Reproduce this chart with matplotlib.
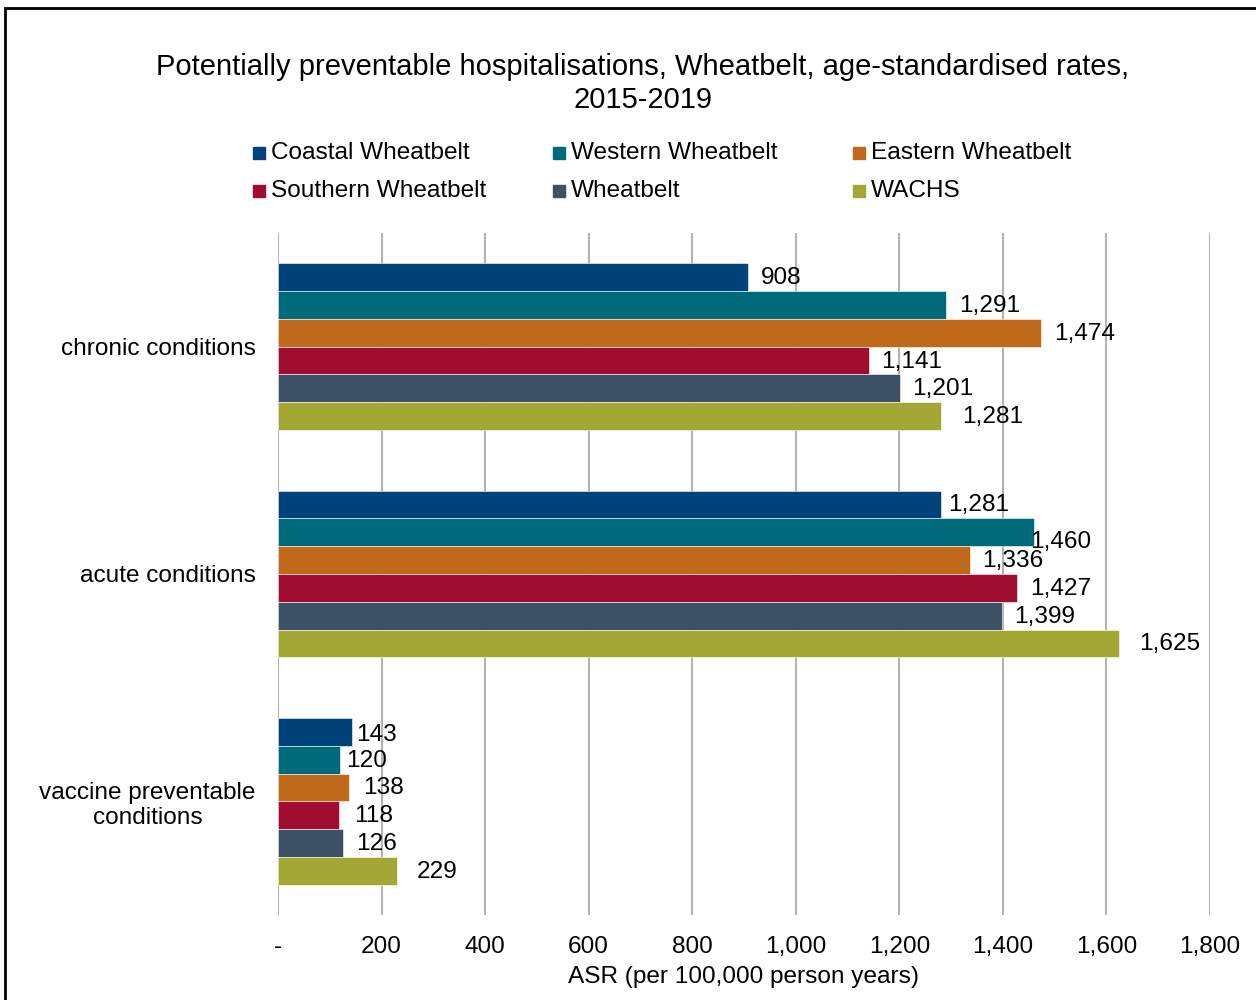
import numpy as np
import matplotlib.pyplot as plt
from matplotlib.patches import Rectangle

plt.rcParams['font.family'] = ['Liberation Sans', 'DejaVu Sans']

categories = ['chronic conditions', 'acute conditions', 'vaccine preventable\nconditions']
series = ['Coastal Wheatbelt', 'Western Wheatbelt', 'Eastern Wheatbelt',
          'Southern Wheatbelt', 'Wheatbelt', 'WACHS']
coastal = [908, 1281, 143]
western = [1291, 1460, 120]
eastern = [1474, 1336, 138]
southern = [1141, 1427, 118]
wheatbelt = [1201, 1399, 126]
wachs = [1281, 1625, 229]
xticks = [0, 200, 400, 600, 800, 1000, 1200, 1400, 1600, 1800]
xticklabels = ['-', '200', '400', '600', '800', '1,000', '1,200', '1,400', '1,600', '1,800']

colors = ['#00437a', '#006a7d', '#c0691a', '#a10d31', '#3d5166', '#a3a835']

# label nudges (pixels) to mimic the original placement
label_dx = [[13, 7, 4], [13, -4, 6], [13, 12, 14], [12, 13, 15], [12, 12, 13], [21, 20, 20]]
label_dy = [[-1, 0, -3], [-1, -10, -1], [-1, -1, -1], [-1, -1, -1], [-1, -1, -1], [-1, -1, -1]]

values = [coastal, western, eastern, southern, wheatbelt, wachs]
fs = 17.6

fig = plt.figure(figsize=(12.56, 10), dpi=100)
ax = fig.add_axes([278 / 1256, 0.085, (1210 - 278) / 1256, 0.767 - 0.085])

h = 0.1222
y = np.arange(len(categories))
for i, vals in enumerate(values):
    pos = y - 2.5 * h + i * h
    ax.barh(pos, vals, height=h, color=colors[i], edgecolor='white', linewidth=0.4, zorder=3)
    for j, v in enumerate(vals):
        ax.annotate(f'{v:,}', (v, pos[j]), xytext=(label_dx[i][j] * 0.72, label_dy[i][j] * 0.72),
                    textcoords='offset points', ha='left', va='center', fontsize=fs, zorder=4)

ax.set_xlim(0, 1800)
ax.set_ylim(2.5, -0.5)
ax.set_xticks(xticks)
ax.set_xticklabels(xticklabels, fontsize=fs)
ax.set_yticks(y)
ax.set_yticklabels(categories, fontsize=fs, multialignment='center')
ax.tick_params(axis='both', length=0)
ax.tick_params(axis='y', pad=16)
ax.tick_params(axis='x', pad=15)
for s in ax.spines.values():
    s.set_visible(False)
ax.grid(axis='x', color='#b3b3b3', linewidth=1.5, zorder=0)
ax.set_axisbelow(True)
ax.set_xlabel('ASR (per 100,000 person years)', fontsize=fs, labelpad=6)

fig.text(643 / 1256, 1 - 67 / 1000, 'Potentially preventable hospitalisations, Wheatbelt, age-standardised rates,',
         ha='center', va='center', fontsize=21)
fig.text(643 / 1256, 1 - 100 / 1000, '2015-2019', ha='center', va='center', fontsize=21)

# legend drawn by hand in three columns
for i, name in enumerate(series):
    row, col = divmod(i, 3)
    x0 = 253 + 300 * col
    y0 = 153 + 38 * row
    fig.patches.append(Rectangle((x0 / 1256, 1 - (y0 + 6) / 1000), 12 / 1256, 12 / 1000,
                                 color=colors[i], transform=fig.transFigure))
    fig.text((x0 + 18) / 1256, 1 - y0 / 1000, name, ha='left', va='center', fontsize=fs)

# outer frame (only top and left edges show in the original)
fig.patches.append(Rectangle((5 / 1256, -0.1), 1.2, 1 - 8 / 1000 + 0.1, fill=False,
                             edgecolor='black', linewidth=2, transform=fig.transFigure))

fig.savefig('out.png', dpi=100)
